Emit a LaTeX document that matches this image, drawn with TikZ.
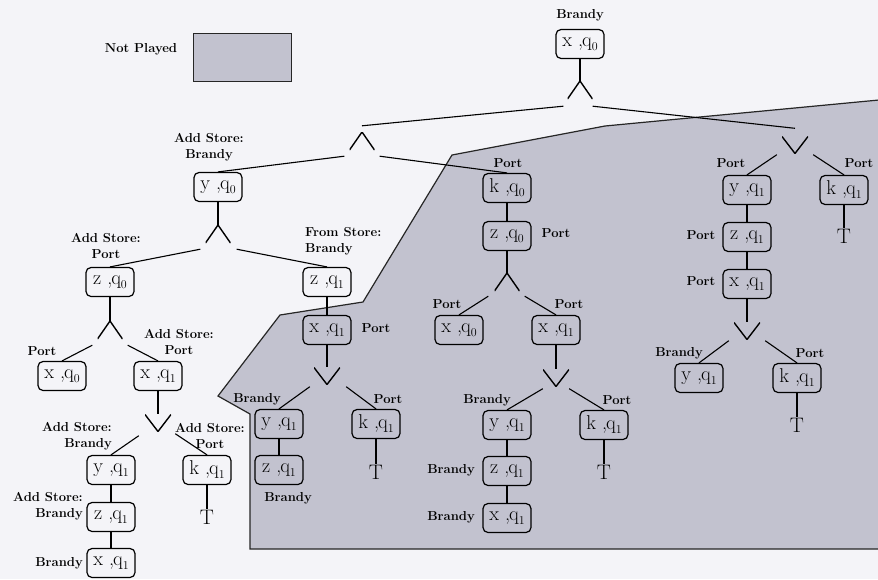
\documentclass[tikz,border=0pt]{standalone}
\usepackage{fontspec}
\definecolor{bgcol}{RGB}{244,244,248}
\definecolor{shade}{RGB}{194,194,207}
\newcommand\qlab[2]{#1 ,\kern-1pt q\raisebox{-4pt}{\fontsize{12}{12}\selectfont #2}}
\begin{document}
\begin{tikzpicture}[x=1pt,y=-1pt,
  box/.style={draw, rounded corners=5pt, line width=1.2pt, minimum width=48pt, minimum height=29pt, inner sep=1pt, font=\fontsize{20}{20}\selectfont},
  lab/.style={font=\fontsize{13}{16}\selectfont\bfseries, inner sep=0pt, align=center},
  tee/.style={font=\fontsize{21}{21}\selectfont, inner sep=1pt},
  andg/.style={minimum width=25pt, minimum height=18pt, inner sep=0pt, path picture={\draw[line width=1.4pt] (path picture bounding box.south west) -- (path picture bounding box.north) -- (path picture bounding box.south east);}},
  org/.style={minimum width=26pt, minimum height=17pt, inner sep=0pt, path picture={\draw[line width=1.4pt] (path picture bounding box.north west) -- (path picture bounding box.south) -- (path picture bounding box.north east);}},
  edge/.style={line width=1.1pt}]
\fill[bgcol] (0,0) rectangle (878,579);
\useasboundingbox (0,0) rectangle (878,579);
% not played region
\filldraw[fill=shade, draw=black!85, line width=1.2pt] (900,98) -- (605,126) -- (452,155) -- (363,302) -- (280,315) -- (218,396) -- (250,414) -- (250,549) -- (900,549) -- cycle;
% legend
\node[lab] (leg) at (141,49) {Not Played};
\node[draw=black!85, line width=1pt, fill=shade, minimum width=98pt, minimum height=48pt] (legbox) at (242,57) {};
% root
\node[lab] (lroot) at (580,15) {Brandy};
\node[box] (root) at (580,44) {\qlab{x}{0}};
\node[andg] (a0) at (580,90) {};
\node[andg] (a1) at (362,141) {};
\node[org] (o1) at (795,145) {};
% left subtree
\node[lab] (l1) at (209,147) {Add Store:\\Brandy};
\node[box] (b1) at (218,187) {\qlab{y}{0}};
\node[andg] (a2) at (218,234) {};
\node[lab] (l2) at (106,246) {Add Store:\\Port};
\node[box] (b2) at (110,282) {\qlab{z}{0}};
\node[lab, anchor=west, align=left] (l3) at (305,241) {From Store:\\Brandy};
\node[box] (b3) at (327,282) {\qlab{z}{1}};
\node[andg] (a3) at (110,330) {};
\node[lab] (l4) at (42,351) {Port};
\node[box] (b4) at (62,376) {\qlab{x}{0}};
\node[lab] (l5) at (179,342) {Add Store:\\Port};
\node[box] (b5) at (158,376) {\qlab{x}{1}};
\node[org] (o2) at (158,423) {};
\node[lab, anchor=east, align=right] (l6) at (112,436) {Add Store:\\Brandy};
\node[lab] (l7) at (210,436) {Add Store:\\Port};
\node[box] (b6) at (111,470) {\qlab{y}{1}};
\node[box] (b7) at (207,470) {\qlab{k}{1}};
\node[tee] (t1) at (207,517) {T};
\node[lab, anchor=east, align=right] (l8) at (83,506) {Add Store:\\Brandy};
\node[box] (b8) at (111,517) {\qlab{z}{1}};
\node[lab, anchor=east] (l9) at (83,563) {Brandy};
\node[box] (b9) at (111,563) {\qlab{x}{1}};
% mid-left subtree
\node[box] (b10) at (327,330) {\qlab{x}{1}};
\node[lab] (l10) at (376,328) {Port};
\node[org] (o3) at (327,376) {};
\node[lab] (l11) at (257,399) {Brandy};
\node[box] (b11) at (279,424) {\qlab{y}{1}};
\node[lab] (l12) at (388,399) {Port};
\node[box] (b12) at (376,424) {\qlab{k}{1}};
\node[box] (b13) at (279,470) {\qlab{z}{1}};
\node[lab] (l13) at (288,498) {Brandy};
\node[tee] (t2) at (376,472) {T};
% middle subtree
\node[lab] (l14) at (508,163) {Port};
\node[box] (b14) at (507,188) {\qlab{k}{0}};
\node[box] (b15) at (507,236) {\qlab{z}{0}};
\node[lab] (l15) at (556,233) {Port};
\node[andg] (a4) at (507,282) {};
\node[lab] (l16) at (447,304) {Port};
\node[box] (b16) at (459,330) {\qlab{x}{0}};
\node[lab] (l17) at (569,304) {Port};
\node[box] (b17) at (556,330) {\qlab{x}{1}};
\node[org] (o4) at (556,378) {};
\node[lab] (l18) at (487,400) {Brandy};
\node[box] (b18) at (507,425) {\qlab{y}{1}};
\node[lab] (l19) at (617,400) {Port};
\node[box] (b19) at (604,425) {\qlab{k}{1}};
\node[box] (b20) at (507,471) {\qlab{z}{1}};
\node[lab] (l20) at (451,470) {Brandy};
\node[box] (b21) at (507,518) {\qlab{x}{1}};
\node[lab] (l21) at (451,517) {Brandy};
\node[tee] (t3) at (604,472) {T};
% right subtree
\node[lab] (l22) at (731,163) {Port};
\node[box] (b22) at (747,190) {\qlab{y}{1}};
\node[lab] (l23) at (859,163) {Port};
\node[box] (b23) at (844,190) {\qlab{k}{1}};
\node[tee] (t4) at (844,236) {T};
\node[box] (b24) at (747,237) {\qlab{z}{1}};
\node[lab] (l24) at (701,235) {Port};
\node[box] (b25) at (747,284) {\qlab{x}{1}};
\node[lab] (l25) at (701,281) {Port};
\node[org] (o5) at (747,331) {};
\node[lab] (l26) at (679,353) {Brandy};
\node[box] (b26) at (699,378) {\qlab{y}{1}};
\node[lab] (l27) at (810,353) {Port};
\node[box] (b27) at (797,378) {\qlab{k}{1}};
\node[tee] (t5) at (797,425) {T};
% edges
\draw[edge] (root.south) -- (a0.north);
\draw[edge] ([xshift=-4pt,yshift=-7pt]a0.south west) -- ([yshift=6pt]a1.north);
\draw[edge] ([xshift=0pt,yshift=-7pt]a0.south east) -- ([yshift=8pt]o1.north);
\draw[edge] ([xshift=-5pt,yshift=-6pt]a1.south west) -- (b1.north);
\draw[edge] ([xshift=5pt,yshift=-6pt]a1.south east) -- (b14.north);
\draw[edge] (b1.south) -- (a2.north);
\draw[edge] ([xshift=-5pt,yshift=-6pt]a2.south west) -- (b2.north);
\draw[edge] ([xshift=6pt,yshift=-6pt]a2.south east) -- (b3.north);
\draw[edge] (b2.south) -- (a3.north);
\draw[edge] ([xshift=-5pt,yshift=-6pt]a3.south west) -- (b4.north);
\draw[edge] ([xshift=5pt,yshift=-6pt]a3.south east) -- (b5.north);
\draw[edge] (b5.south) -- (o2.north);
\draw[edge] ([xshift=-6pt,yshift=-4pt]o2.south west) -- (b6.north);
\draw[edge] ([xshift=4pt,yshift=-2pt]o2.south east) -- (b7.north);
\draw[edge] (b7.south) -- (t1.north);
\draw[edge] (b6.south) -- (b8.north);
\draw[edge] (b8.south) -- (b9.north);
\draw[edge] (b3.south) -- (b10.north);
\draw[edge] (b10.south) -- (o3.north);
\draw[edge] ([xshift=-4pt,yshift=-2pt]o3.south west) -- (b11.north);
\draw[edge] ([xshift=6pt,yshift=-2pt]o3.south east) -- (b12.north);
\draw[edge] (b11.south) -- (b13.north);
\draw[edge] (b12.south) -- (t2.north);
\draw[edge] (b14.south) -- (b15.north);
\draw[edge] (b15.south) -- (a4.north);
\draw[edge] ([xshift=-6pt,yshift=-5pt]a4.south west) -- (b16.north);
\draw[edge] ([xshift=5pt,yshift=-5pt]a4.south east) -- (b17.north);
\draw[edge] (b17.south) -- (o4.north);
\draw[edge] ([xshift=0pt,yshift=-2pt]o4.south west) -- (b18.north);
\draw[edge] ([xshift=0pt,yshift=-2pt]o4.south east) -- (b19.north);
\draw[edge] (b18.south) -- (b20.north);
\draw[edge] (b20.south) -- (b21.north);
\draw[edge] (b19.south) -- (t3.north);
\draw[edge] ([xshift=-5pt,yshift=-1pt]o1.south west) -- (b22.north);
\draw[edge] ([xshift=5pt,yshift=-1pt]o1.south east) -- (b23.north);
\draw[edge] (b23.south) -- (t4.north);
\draw[edge] (b22.south) -- (b24.north);
\draw[edge] (b24.south) -- (b25.north);
\draw[edge] (b25.south) -- (o5.north);
\draw[edge] ([xshift=-5pt,yshift=-1pt]o5.south west) -- (b26.north);
\draw[edge] ([xshift=5pt,yshift=-1pt]o5.south east) -- (b27.north);
\draw[edge] (b27.south) -- (t5.north);
\end{tikzpicture}
\end{document}
